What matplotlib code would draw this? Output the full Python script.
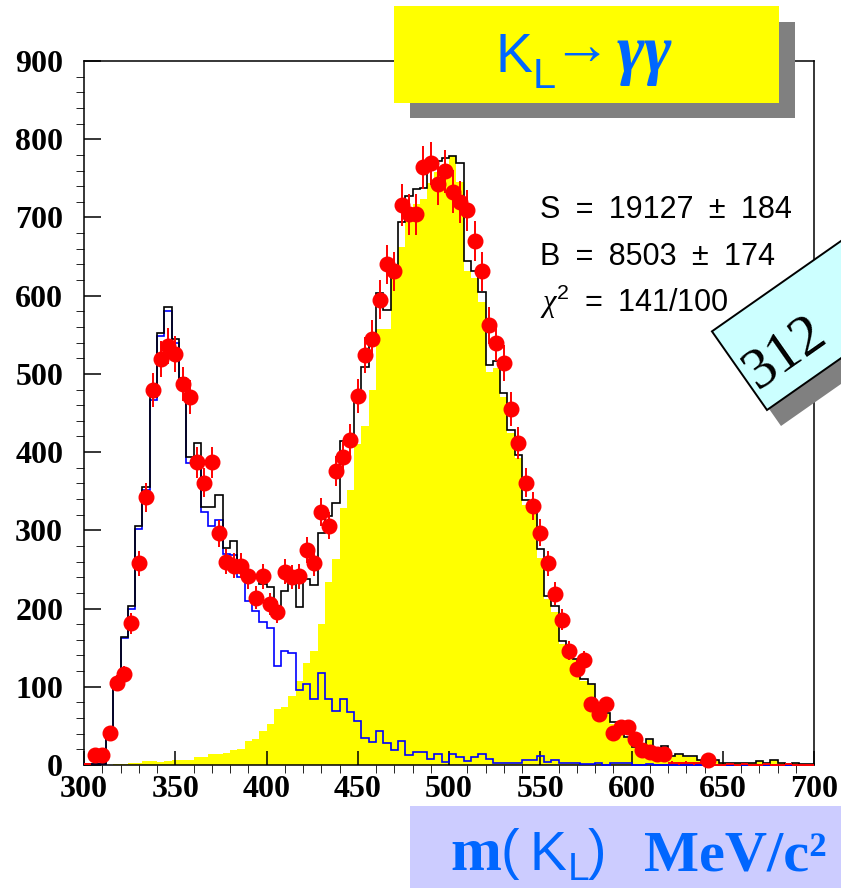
import numpy as np
import matplotlib
matplotlib.use("Agg")
import matplotlib.pyplot as plt
from matplotlib.patches import Rectangle
from matplotlib.transforms import IdentityTransform
from matplotlib.ticker import MultipleLocator

plt.rcParams['mathtext.fontset'] = 'custom'
plt.rcParams['mathtext.rm'] = 'Liberation Sans'
plt.rcParams['mathtext.sf'] = 'Liberation Serif:italic'

# ---- histogram binning: m(K_L) in MeV/c^2 ----
mass_lo, mass_hi, bin_width = 300, 700, 4

# measured counts per 4 MeV bin
data_counts = [
    1, 13, 13, 41, 105, 116, 181, 258, 342, 479,
    519, 536, 525, 487, 470, 387, 361, 387, 296, 260,
    255, 255, 241, 214, 241, 206, 196, 247, 240, 241,
    275, 258, 323, 306, 376, 394, 416, 472, 524, 545,
    595, 640, 631, 716, 704, 704, 764, 769, 743, 759,
    733, 720, 709, 670, 631, 562, 540, 514, 455, 412,
    361, 331, 297, 258, 219, 186, 146, 123, 134, 78,
    65, 78, 41, 48, 48, 33, 19, 17, 14, 14,
    3, 2, 3, 2, 3, 7, 0, 0, 1, 0,
    1, 0, 0, 1, 0, 0, 1, 0, 0, 0,
]

# total fit (signal + background)
fit_total = [
    1, 1, 1, 34, 106, 164, 203, 305, 356, 471,
    552, 586, 545, 495, 394, 412, 330, 330, 345, 277,
    286, 250, 243, 240, 232, 227, 203, 223, 233, 202,
    238, 230, 297, 318, 335, 414, 422, 470, 509, 540,
    604, 582, 638, 694, 728, 736, 738, 772, 772, 776,
    779, 770, 644, 631, 605, 511, 516, 475, 428, 396,
    339, 329, 276, 216, 203, 159, 151, 136, 110, 104,
    66, 66, 55, 55, 36, 23, 23, 33, 15, 24,
    11, 14, 11, 11, 7, 7, 6, 3, 3, 2,
    2, 2, 5, 3, 6, 3, 1, 2, 1, 1,
]

# background component
background = [
    1, 1, 1, 33, 105, 162, 200, 302, 351, 466,
    548, 580, 540, 490, 386, 394, 323, 306, 313, 270,
    268, 240, 210, 197, 183, 175, 127, 146, 143, 96,
    104, 84, 117, 85, 69, 85, 68, 56, 34, 30,
    44, 28, 19, 31, 13, 16, 16, 8, 14, 4,
    14, 10, 5, 10, 14, 8, 3, 2, 3, 3,
    6, 6, 11, 4, 6, 3, 2, 2, 1, 1,
    2, 0, 2, 2, 2, 0, 0, 1, 0, 0,
    0, 0, 0, 0, 0, 0, 0, 0, 0, 0,
    0, 0, 0, 0, 0, 0, 0, 0, 0, 0,
]

# K_L -> gamma gamma signal component
signal = [
    0, 0, 0, 0, 1, 1, 2, 2, 5, 5,
    4, 5, 6, 7, 7, 10, 10, 14, 14, 15,
    19, 20, 31, 33, 44, 52, 72, 74, 88, 108,
    130, 146, 180, 234, 263, 328, 352, 410, 433, 480,
    558, 558, 625, 662, 712, 717, 723, 744, 758, 768,
    778, 745, 632, 622, 592, 502, 508, 470, 424, 392,
    332, 322, 264, 212, 196, 155, 148, 134, 108, 102,
    63, 65, 52, 52, 34, 22, 22, 32, 14, 23,
    10, 13, 10, 10, 6, 6, 5, 3, 3, 2,
    2, 2, 5, 3, 6, 3, 1, 2, 1, 1,
]

SP = "\u2002"
stats_lines = [f"S{SP}={SP}19127{SP}\u00b1{SP}184",
               f"B{SP}={SP}8503{SP}\u00b1{SP}174",
               r"$\mathsf{\chi}^{2}$" + f"{SP}={SP}141/100"]

edges = np.arange(mass_lo, mass_hi + bin_width, bin_width)
centers = edges[:-1] + bin_width / 2
counts = np.asarray(data_counts, dtype=float)

W, H, DPI = 841, 888, 100
fig = plt.figure(figsize=(W / DPI, H / DPI), dpi=DPI)
ax = fig.add_axes([84 / W, 1 - 765 / H, 730 / W, 704 / H])

ax.stairs(signal, edges, fill=True, color='#ffff00', zorder=1)
ax.stairs(background, edges, color='#0000ff', lw=1.2, zorder=3, clip_on=False)
ax.stairs(fit_total, edges, color='black', lw=1.2, zorder=3, clip_on=False)

ax.errorbar(centers, counts, yerr=np.sqrt(counts), xerr=bin_width / 2,
            fmt='none', ecolor='#ff0000', elinewidth=1.4, capsize=0,
            zorder=4, clip_on=False)
big = counts >= 5
ax.plot(centers[big], counts[big], 'o', color='#ff0000', ms=10.5,
        mec='#ff0000', zorder=5, clip_on=False)

ax.set_xlim(mass_lo, mass_hi)
ax.set_ylim(0, 900)
ax.set_xticks(np.arange(300, 701, 50))
ax.set_yticks(np.arange(0, 901, 100))
ax.xaxis.set_minor_locator(MultipleLocator(10))
ax.yaxis.set_minor_locator(MultipleLocator(20))
ax.tick_params(direction='in', top=False, right=False, width=1.1)
ax.tick_params(axis='y', which='major', length=12, pad=15)
ax.tick_params(axis='y', which='minor', length=6)
ax.tick_params(axis='x', which='major', length=10, pad=7)
ax.tick_params(axis='x', which='minor', length=6)
for lab in ax.get_xticklabels() + ax.get_yticklabels():
    lab.set_fontfamily('Liberation Serif')
    lab.set_fontweight('bold')
    lab.set_fontsize(23)
for sp in ax.spines.values():
    sp.set_linewidth(1.1)

px = IdentityTransform()
blue_txt = '#0066ff'

# fit results
for i, line in enumerate(stats_lines):
    fig.text(540, H - (218 + 47 * i), line, transform=px, fontsize=22,
             family=['Liberation Sans', 'DejaVu Sans'], ha='left',
             va='baseline', zorder=6)

# title panel
fig.add_artist(Rectangle((410, H - 118), 385, 96, transform=px,
                         facecolor='#808080', edgecolor='none', zorder=6))
fig.add_artist(Rectangle((394, H - 103), 385, 97, transform=px,
                         facecolor='#ffff00', edgecolor='none', zorder=7))
sans = 'Liberation Sans'
serif = 'Liberation Serif'
fig.text(496, H - 72, "K", transform=px, color=blue_txt, fontsize=40,
         family=sans, ha='left', va='baseline', zorder=8)
fig.text(533, H - 88, "L", transform=px, color=blue_txt, fontsize=30,
         family=sans, ha='left', va='baseline', zorder=8)
fig.text(552, H - 64, "\u2192", transform=px, color=blue_txt, fontsize=42,
         family=sans, weight='bold', ha='left', va='baseline', zorder=8)
fig.text(617, H - 72, "\u03b3\u03b3", transform=px, color=blue_txt,
         fontsize=48, family=serif, style='italic', weight='bold',
         ha='left', va='baseline', zorder=8)

# tilted event-count tag
ang = 35
fig.add_artist(Rectangle((781, H - 426), 320, 96, angle=ang, transform=px,
                         facecolor='#808080', edgecolor='none', zorder=6))
fig.add_artist(Rectangle((767, H - 410), 320, 96, angle=ang, transform=px,
                         facecolor='#ccffff', edgecolor='black', lw=1.4, zorder=7))
fig.text(757, H - 390, "312", transform=px, rotation=ang,
         rotation_mode='anchor', family=serif, fontsize=42,
         ha='left', va='baseline', zorder=8)

# axis title panel
fig.add_artist(Rectangle((410, 0), 440, H - 806, transform=px,
                         facecolor='#ccccff', edgecolor='none', zorder=6))
label_parts = [  # (x, baseline, text, size, family, weight)
    (450, 870, "m", 44, serif, 'bold'),
    (501, 868, "(", 40, sans, 'normal'),
    (530, 870, "K", 40, sans, 'normal'),
    (568, 880, "L", 28, sans, 'normal'),
    (588, 868, ")", 40, sans, 'normal'),
    (644, 870, "MeV/c\u00b2", 42, serif, 'bold'),
]
for x, yb, s, fs, fam, wt in label_parts:
    fig.text(x, H - yb, s, transform=px, color=blue_txt, fontsize=fs,
             family=fam, weight=wt, ha='left', va='baseline', zorder=8)

fig.savefig('out.png', dpi=DPI)
